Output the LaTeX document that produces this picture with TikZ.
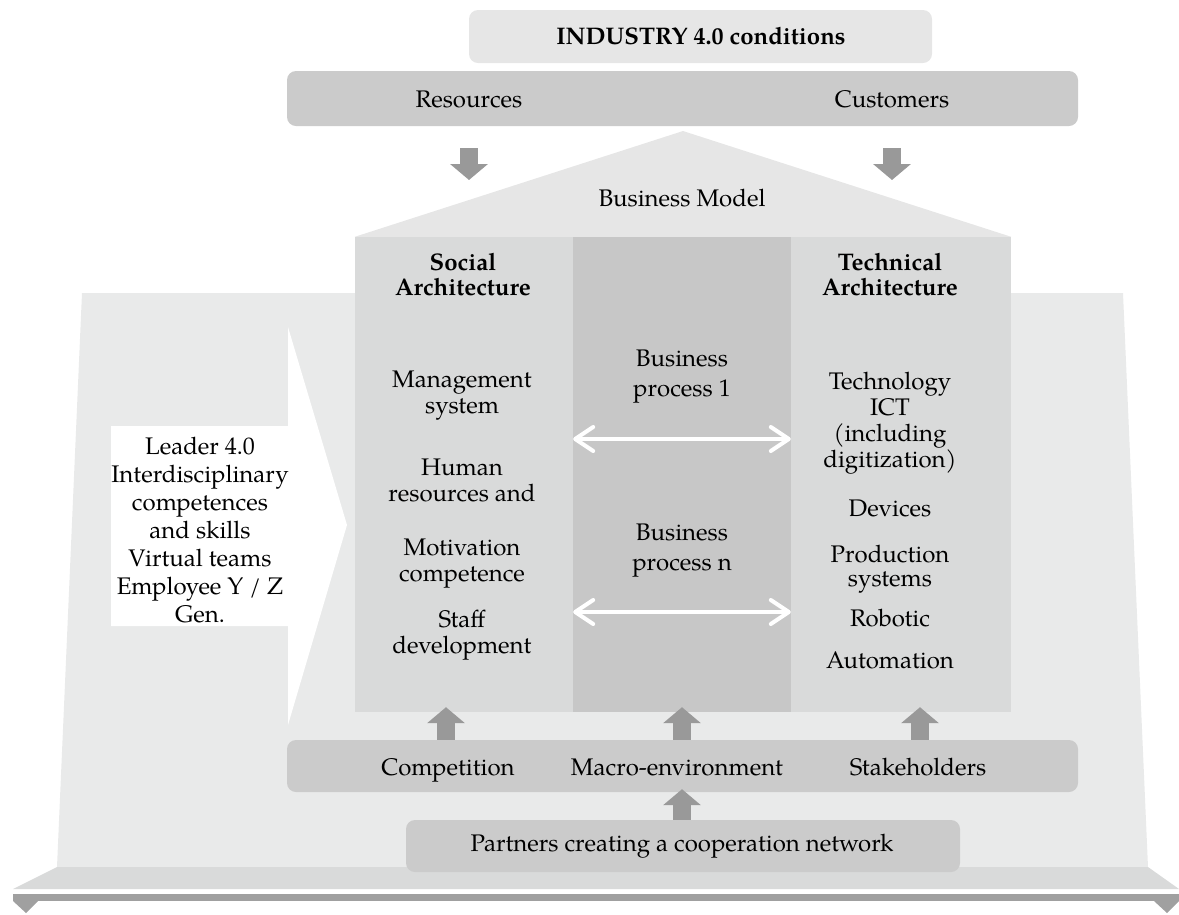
\documentclass[tikz,border=0pt]{standalone}
\usepackage{fontspec}
\setmainfont{TeX Gyre Pagella}
\usetikzlibrary{arrows.meta}
\definecolor{bgc}{HTML}{E9EAEA}
\definecolor{platc}{HTML}{D9DADA}
\definecolor{darkc}{HTML}{A0A0A0}
\definecolor{arrc}{HTML}{999999}
\definecolor{barc}{HTML}{CBCBCB}
\definecolor{lightc}{HTML}{E6E6E6}
\definecolor{sidec}{HTML}{D9DADA}
\definecolor{midc}{HTML}{C7C7C7}
\tikzset{
  txt/.style={font=\fontsize{24}{26}\selectfont, align=center, inner sep=0pt, text height=17pt, text depth=5pt},
  mtxt/.style={font=\fontsize{24}{26}\selectfont, align=center, inner sep=0pt},
  bold/.style={mtxt, font=\fontsize{24}{25}\selectfont\bfseries},
  bar/.style={fill=barc, rounded corners=9pt, inner sep=0pt},
  colbox/.style={inner sep=0pt, minimum height=475pt},
  blk/.style={draw=arrc, line width=18pt, -{Triangle[length=16pt,width=37pt]}},
  dbl/.style={draw=white, line width=4pt, line cap=round,
    {Straight Barb[length=18pt,width=24pt,round]}-{Straight Barb[length=18pt,width=24pt,round]}}
}
\begin{document}
\begin{tikzpicture}[x=1pt,y=-1pt]
\useasboundingbox (0,0) rectangle (1179,914);
% background building and platform
\fill[bgc] (82,293) -- (1123,293) -- (1148,867) -- (57,867) -- cycle;
\fill[platc] (57,867) -- (1148,867) -- (1179,889) -- (13,889) -- cycle;
\fill[darkc] (13,894) rectangle (1179,901);
\fill[darkc] (13,901) -- (38,901) -- (26,913) -- cycle;
\fill[darkc] (1154,901) -- (1179,901) -- (1167,913) -- cycle;
% columns
\node[colbox, fill=sidec, minimum width=218pt] (soc) at (464,474.5) {};
\node[colbox, fill=midc, minimum width=218pt] (mid) at (682,474.5) {};
\node[colbox, fill=sidec, minimum width=220pt] (tech) at (901,474.5) {};
% roof
\coordinate (apex) at (683,131);
\fill[lightc] (soc.north west) -- (apex) -- (tech.north east) -- cycle;
\node[txt] (bm) at (682,200) {Business Model};
% top boxes
\node[bar, fill=lightc, minimum width=463pt, minimum height=53pt] (ind) at (700.5,36.5) {};
\node[txt, font=\fontsize{24}{26}\selectfont\bfseries] (indT) at (701,38) {INDUSTRY 4.0 conditions};
\node[bar, minimum width=791pt, minimum height=55pt] (res) at (682.5,98.5) {};
\node[txt] (resT) at (469,101) {Resources};
\node[txt] (cusT) at (892,101) {Customers};
% down arrows
\coordinate (d1a) at (469,148); \coordinate (d1b) at (469,180);
\coordinate (d2a) at (892,148); \coordinate (d2b) at (892,180);
\draw[blk] (d1a) -- (d1b);
\draw[blk] (d2a) -- (d2b);
% left white arrow
\fill[white] (111,426) -- (288,426) -- (288,327) -- (347,525) -- (288,725) -- (288,626) -- (111,626) -- cycle;
\node[mtxt, font=\fontsize{24}{28}\selectfont] (lead) at (200,530) {Leader 4.0\\Interdisciplinary\\competences\\and skills\\Virtual teams\\Employee Y / Z\\Gen.};
% column texts
\node[bold] (socH) at (463,274.5) {Social\\Architecture};
\node[mtxt] (s1) at (462,396) {Management\\system};
\node[mtxt] (s2) at (462,480) {Human\\resources and};
\node[mtxt] (s3) at (462,563.5) {Motivation\\competence};
\node[mtxt] (s4) at (462,635) {Staff\\development};
\node[bold] (techH) at (890,274.5) {Technical\\Architecture};
\node[mtxt, font=\fontsize{24}{26}\selectfont] (t1) at (890,423) {Technology\\ICT\\(including\\digitization)};
\node[txt] (t2) at (890,510) {Devices};
\node[mtxt, font=\fontsize{24}{24}\selectfont] (t3) at (890,569.5) {Production\\systems};
\node[txt] (t4) at (890,620) {Robotic};
\node[txt] (t5) at (890,662) {Automation};
\node[mtxt, font=\fontsize{24}{30}\selectfont] (p1) at (682,377) {Business\\process 1};
\node[mtxt, font=\fontsize{24}{30}\selectfont] (pn) at (682,551) {Business\\process n};
% white double arrows
\coordinate (h1) at (0,439); \coordinate (h2) at (0,612);
\draw[dbl] (soc.east |- h1) -- (tech.west |- h1);
\draw[dbl] (soc.east |- h2) -- (tech.west |- h2);
% bottom bars
\node[bar, minimum width=791pt, minimum height=52pt] (env) at (682.5,766) {};
\node[txt] (comp) at (448,769) {Competition};
\node[txt] (macro) at (677,769) {Macro-environment};
\node[txt] (stake) at (918,769) {Stakeholders};
\node[bar, minimum width=554pt, minimum height=52pt] (part) at (683,846) {};
\node[txt] (partT) at (682,845) {Partners creating a cooperation network};
% up arrows
\coordinate (u1) at (446,0); \coordinate (u2) at (682,0); \coordinate (u3) at (920,0);
\draw[blk] (env.north -| u1) -- ([yshift=5pt]soc.south -| u1);
\draw[blk] (env.north -| u2) -- ([yshift=5pt]mid.south -| u2);
\draw[blk] (env.north -| u3) -- ([yshift=5pt]tech.south -| u3);
\draw[blk] (part.north -| u2) -- ([yshift=3pt]env.south -| u2);
\end{tikzpicture}
\end{document}
